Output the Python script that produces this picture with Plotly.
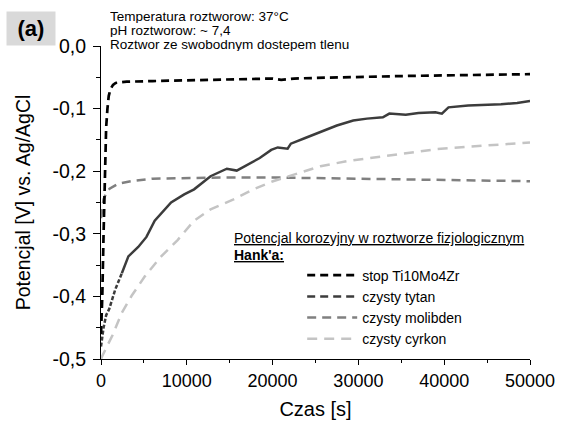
import plotly.graph_objects as go

# ---------------- data ----------------
t_stop = [0, 150, 300, 450, 600, 750, 900, 1100, 1400, 1700, 3000, 6000, 10000,
          15000, 20000, 21000, 22500, 25000, 30000, 35000, 40000, 45000, 50000]
v_stop = [-0.46, -0.40, -0.30, -0.20, -0.13, -0.10, -0.08, -0.069, -0.062, -0.059,
          -0.057, -0.056, -0.055, -0.053, -0.052, -0.054, -0.052, -0.051, -0.049,
          -0.048, -0.047, -0.046, -0.045]

t_tytan = [0, 300, 600, 960, 1660, 2430, 3190, 4340, 5300, 6260, 7200, 8170, 9700,
           10850, 12770, 14670, 15820, 17350, 18500, 19840, 20600, 21750, 22130,
           23800, 25580, 27490, 29400, 31000, 32850, 33610, 35520, 37000, 38970,
           39730, 40500, 42790, 46620, 48500, 50000]
v_tytan = [-0.48, -0.45, -0.43, -0.42, -0.389, -0.363, -0.336, -0.321, -0.305,
           -0.279, -0.265, -0.250, -0.237, -0.229, -0.208, -0.196, -0.199, -0.187,
           -0.179, -0.166, -0.162, -0.164, -0.156, -0.147, -0.137, -0.127, -0.119,
           -0.116, -0.114, -0.108, -0.110, -0.107, -0.106, -0.108, -0.098, -0.095,
           -0.093, -0.091, -0.088]

t_molib = [0, 300, 600, 1000, 2000, 3500, 6000, 10000, 15000, 20000, 25000, 30000,
           35000, 40000, 45000, 50000]
v_molib = [-0.275, -0.245, -0.235, -0.228, -0.220, -0.216, -0.212, -0.211, -0.210,
           -0.210, -0.211, -0.212, -0.213, -0.214, -0.215, -0.216]

t_cyrk = [0, 190, 1340, 2430, 3570, 5110, 7020, 8930, 10850, 12770, 15450, 17750,
          20050, 21960, 25580, 28640, 31320, 35140, 38970, 42790, 46620, 50000]
v_cyrk = [-0.50, -0.494, -0.462, -0.426, -0.399, -0.368, -0.336, -0.310, -0.279,
          -0.261, -0.245, -0.229, -0.216, -0.208, -0.192, -0.184, -0.179, -0.171,
          -0.165, -0.161, -0.157, -0.154]

series_names = ["stop Ti10Mo4Zr", "czysty tytan", "czysty molibden", "czysty cyrkon"]
y_tickvals = [0.0, -0.1, -0.2, -0.3, -0.4, -0.5]
y_ticktext = ["0,0", "-0,1", "-0,2", "-0,3", "-0,4", "-0,5"]
x_tickvals = [0, 10000, 20000, 30000, 40000, 50000]
x_ticktext = ["0", "10000", "20000", "30000", "40000", "50000"]

# ---------------- layout geometry ----------------
W, H = 567, 429
L, R, T, B = 101, 536, 46, 364
FONT = "Arial, Liberation Sans, sans-serif"


def px(x):
    return (x - L) / (R - L)


def py(y):
    return (B - y) / (B - T)


C_STOP, C_TYT, C_MOL, C_CYR = "#000000", "#3c3c3c", "#808080", "#c4c4c4"

fig = go.Figure()

# tytan: sparse dashed beginning, then dense solid-looking trace
n0 = 6
fig.add_trace(go.Scatter(x=t_tytan[:n0], y=v_tytan[:n0], mode="lines",
                         line=dict(color=C_TYT, width=2.5, dash="4px,2px"),
                         showlegend=False, hoverinfo="skip"))
fig.add_trace(go.Scatter(x=t_tytan[n0 - 1:], y=v_tytan[n0 - 1:], mode="lines",
                         line=dict(color=C_TYT, width=2.5),
                         showlegend=False, hoverinfo="skip"))

fig.add_trace(go.Scatter(x=t_molib, y=v_molib, mode="lines", name=series_names[2],
                         line=dict(color=C_MOL, width=2.5, dash="9px,6px"),
                         legendrank=3))
fig.add_trace(go.Scatter(x=t_cyrk, y=v_cyrk, mode="lines", name=series_names[3],
                         line=dict(color=C_CYR, width=2.5, dash="10px,7px"),
                         legendrank=4))
fig.add_trace(go.Scatter(x=t_stop, y=v_stop, mode="lines", name=series_names[0],
                         line=dict(color=C_STOP, width=2.7, dash="8px,5px"),
                         legendrank=1))
# legend entry for tytan (dashed sample as in the reference legend)
fig.add_trace(go.Scatter(x=[None], y=[None], mode="lines", name=series_names[1],
                         line=dict(color=C_TYT, width=2.5, dash="8px,5px"),
                         legendrank=2))

axis_common = dict(showline=True, linecolor="black", linewidth=1, ticks="outside",
                   tickcolor="black", tickwidth=1, showgrid=False,
                   zeroline=False, mirror=False)

fig.update_xaxes(range=[0, 50000], tickmode="array", tickvals=x_tickvals,
                 ticktext=x_ticktext, ticklen=5,
                 tickfont=dict(family=FONT, size=18, color="black"),
                 minor=dict(ticks="outside", dtick=5000, tick0=0, ticklen=3,
                            tickcolor="black", showgrid=False),
                 title=dict(text="Czas [s]", font=dict(family=FONT, size=20,
                                                       color="black"), standoff=12),
                 **axis_common)
fig.update_yaxes(range=[-0.5, 0.0], tickmode="array", tickvals=y_tickvals,
                 ticktext=y_ticktext, ticklen=7, ticklabelstandoff=3,
                 tickfont=dict(family=FONT, size=19.5, color="black"),
                 minor=dict(ticks="outside", dtick=0.05, tick0=0, ticklen=4,
                            tickcolor="black", showgrid=False),
                 title=dict(text="Potencjal [V] vs. Ag/AgCl",
                            font=dict(family=FONT, size=19.5, color="black"),
                            standoff=16),
                 **axis_common)

small = dict(family=FONT, size=13.5, color="black")
annotations = [
    dict(text="Temperatura roztworow: 37°C", x=px(108), y=py(16)),
    dict(text="pH roztworow: ~ 7,4", x=px(108), y=py(30)),
    dict(text="Roztwor ze swobodnym dostepem tlenu", x=px(108), y=py(44)),
]
for a in annotations:
    fig.add_annotation(xref="paper", yref="paper", xanchor="left", yanchor="middle",
                       showarrow=False, font=small, height=14, **a)

fig.add_annotation(xref="paper", yref="paper", x=px(234), y=py(241), xanchor="left",
                   yanchor="middle", showarrow=False,
                   text="Potencjal korozyjny w roztworze fizjologicznym",
                   font=dict(lineposition="under", family=FONT, size=14,
                             color="black"))
fig.add_annotation(xref="paper", yref="paper", x=px(234), y=py(258), xanchor="left",
                   yanchor="middle", showarrow=False, text="<b>Hank'a:</b>",
                   font=dict(lineposition="under", family=FONT, size=14,
                             color="black"))

# (a) label in grey box
fig.add_annotation(xref="paper", yref="paper", x=px(30), y=py(28), xanchor="center",
                   yanchor="middle", showarrow=False, text="<b>(a)</b>",
                   font=dict(family=FONT, size=22, color="black"),
                   bgcolor="#d9d9d9", width=46, height=31)

fig.update_layout(
    width=W, height=H,
    margin=dict(l=L, r=W - R, t=T, b=H - B, pad=0),
    paper_bgcolor="white", plot_bgcolor="white",
    font=dict(family=FONT, color="black"),
    legend=dict(x=px(305), y=py(263), xanchor="left", yanchor="top",
                bgcolor="rgba(0,0,0,0)",
                font=dict(family=FONT, size=14, color="black"), itemwidth=50,
                tracegroupgap=0, traceorder="normal"),
)

fig.write_html("out.html")
